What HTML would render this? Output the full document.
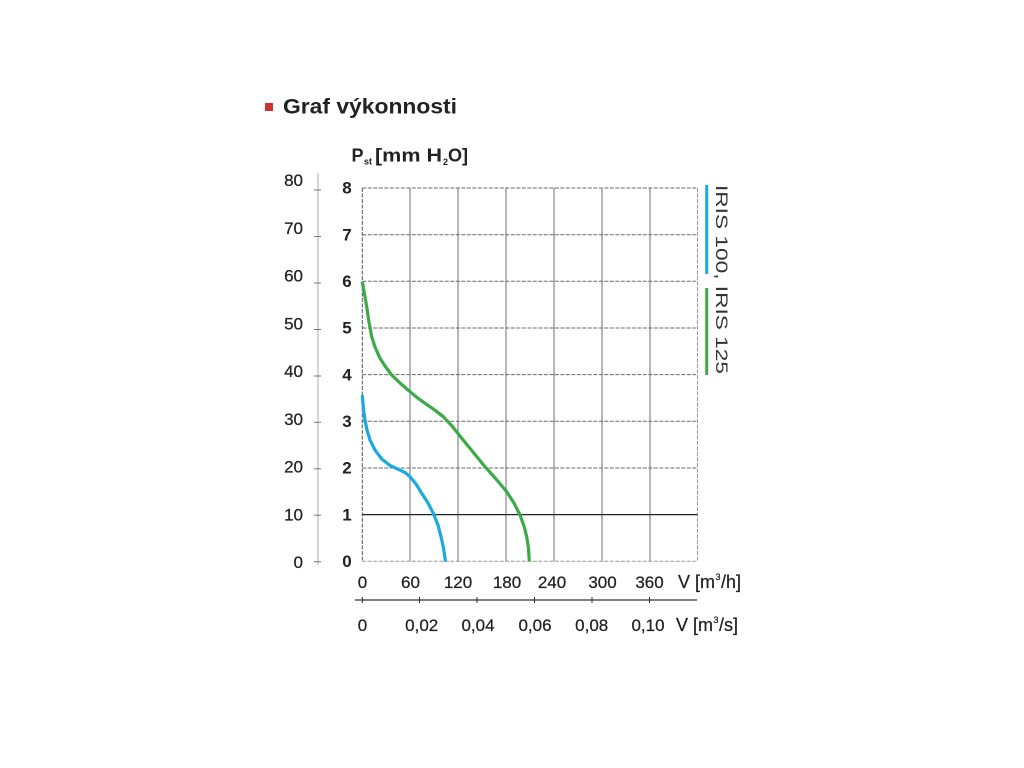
<!DOCTYPE html>
<html>
<head>
<meta charset="utf-8">
<style>
  html, body { margin: 0; padding: 0; background: #ffffff; }
  svg { display: block; }
  text { font-family: "Liberation Sans", "DejaVu Sans", sans-serif; }
</style>
</head>
<body>
<svg width="1024" height="768" viewBox="0 0 1024 768" xmlns="http://www.w3.org/2000/svg">
  <rect x="0" y="0" width="1024" height="768" fill="#ffffff"/>

  <!-- Title -->
  <rect x="265" y="103" width="8" height="8" fill="#d0312d"/>
  <text x="283" y="113.5" font-size="21" font-weight="bold" fill="#222" textLength="174" lengthAdjust="spacingAndGlyphs">Graf výkonnosti</text>

  <!-- Y axis title -->
  <text x="351.5" y="161.7" font-size="18" font-weight="bold" fill="#222">P</text>
  <text x="364" y="164.5" font-size="9" font-weight="bold" fill="#222">st</text>
  <text x="375" y="161.7" font-size="18" font-weight="bold" fill="#222" textLength="67" lengthAdjust="spacingAndGlyphs">[mm H</text>
  <text x="443" y="165" font-size="9" font-weight="bold" fill="#222">2</text>
  <text x="448" y="161.7" font-size="18" font-weight="bold" fill="#222">O]</text>

  <!-- Outer left axis (mm H2O x10) -->
  <line x1="318" y1="173" x2="318" y2="565" stroke="#c8c8c8" stroke-width="1.5"/>
  <g stroke="#777" stroke-width="1">
    <line x1="314" y1="190" x2="321" y2="190"/>
    <line x1="314" y1="236.5" x2="321" y2="236.5"/>
    <line x1="314" y1="283" x2="321" y2="283"/>
    <line x1="314" y1="329.5" x2="321" y2="329.5"/>
    <line x1="314" y1="376" x2="321" y2="376"/>
    <line x1="314" y1="422.3" x2="321" y2="422.3"/>
    <line x1="314" y1="468.8" x2="321" y2="468.8"/>
    <line x1="314" y1="515.2" x2="321" y2="515.2"/>
    <line x1="314" y1="561.7" x2="321" y2="561.7"/>
  </g>
  <g font-size="17" fill="#222" text-anchor="end" stroke="#222" stroke-width="0.25">
    <text x="303" y="186">80</text>
    <text x="303" y="233.8">70</text>
    <text x="303" y="281.5">60</text>
    <text x="303" y="329.3">50</text>
    <text x="303" y="377">40</text>
    <text x="303" y="424.8">30</text>
    <text x="303" y="472.5">20</text>
    <text x="303" y="520.3">10</text>
    <text x="303" y="568">0</text>
  </g>

  <!-- Inner left labels -->
  <g font-size="17" font-weight="bold" fill="#222" text-anchor="middle">
    <text x="347" y="193.7">8</text>
    <text x="347" y="240.3">7</text>
    <text x="347" y="287">6</text>
    <text x="347" y="333.7">5</text>
    <text x="347" y="380.3">4</text>
    <text x="347" y="427">3</text>
    <text x="347" y="473.7">2</text>
    <text x="347" y="520.3">1</text>
    <text x="347" y="567">0</text>
  </g>

  <!-- Grid: vertical lines -->
  <g stroke="#7a7a7a" stroke-width="1.1">
    <line x1="410" y1="188" x2="410" y2="561.3"/>
    <line x1="458" y1="188" x2="458" y2="561.3"/>
    <line x1="506" y1="188" x2="506" y2="561.3" stroke="#a0a0a0" stroke-width="1.5"/>
    <line x1="554" y1="188" x2="554" y2="561.3"/>
    <line x1="602" y1="188" x2="602" y2="561.3"/>
    <line x1="650" y1="188" x2="650" y2="561.3"/>
  </g>
  <line x1="362.3" y1="188" x2="362.3" y2="561.3" stroke="#555" stroke-width="1" stroke-dasharray="4 1.5"/>
  <line x1="697.5" y1="188" x2="697.5" y2="561.3" stroke="#999" stroke-width="1" stroke-dasharray="4 1.5"/>

  <!-- Grid: horizontal lines -->
  <g stroke="#6a6a6a" stroke-width="1" stroke-dasharray="4 1.5">
    <line x1="362.3" y1="188" x2="697.5" y2="188"/>
    <line x1="362.3" y1="234.7" x2="697.5" y2="234.7"/>
    <line x1="362.3" y1="281.3" x2="697.5" y2="281.3"/>
    <line x1="362.3" y1="328" x2="697.5" y2="328"/>
    <line x1="362.3" y1="374.6" x2="697.5" y2="374.6"/>
    <line x1="362.3" y1="421.3" x2="697.5" y2="421.3"/>
    <line x1="362.3" y1="468" x2="697.5" y2="468"/>
    <line x1="362.3" y1="561.3" x2="697.5" y2="561.3" stroke="#999"/>
  </g>
  <line x1="362.3" y1="514.6" x2="697.5" y2="514.6" stroke="#222" stroke-width="1.2"/>

  <!-- Curves -->
  <polyline fill="none" stroke="#3daa48" stroke-width="3.2" stroke-linejoin="round" stroke-linecap="butt"
    points="362.3,281.7 364.5,294 366.7,306.7 369,322 371.7,336.7 375,347 380,358.3 385,366 391.7,375 400,383 410,391.7 417,397.5 425,403.3 434,409.5 443.3,416.7 452,426 461.7,438.3 473,452 485,466.7 496,479 506.7,491.7 514,503 520,515 524,526 526.7,536.7 528.5,548 529.3,561.5"/>
  <polyline fill="none" stroke="#1ba9e1" stroke-width="3.2" stroke-linejoin="round" stroke-linecap="butt"
    points="362.3,395 363.5,410 365,420 367,430 370,440 375,450 381.7,459 390,465.5 398.3,469.3 405,472.5 410,476.7 416,484 421.7,493.3 428,503 433.3,513.3 438,525 441,536.7 443.5,548 445.5,561.5"/>

  <!-- Bottom m3/h labels -->
  <g font-size="17" fill="#222" text-anchor="middle" stroke="#222" stroke-width="0.25">
    <text x="362.5" y="588">0</text>
    <text x="410.5" y="588">60</text>
    <text x="458" y="588">120</text>
    <text x="507" y="588">180</text>
    <text x="552" y="588">240</text>
    <text x="602.5" y="588">300</text>
    <text x="649.5" y="588">360</text>
  </g>
  <g fill="#222" stroke="#222" stroke-width="0.25">
    <text x="678" y="588" font-size="18">V [m</text>
    <text x="715.5" y="580" font-size="9">3</text>
    <text x="721" y="588" font-size="18">/h]</text>
  </g>

  <!-- Second axis (m3/s) -->
  <line x1="355" y1="600" x2="697" y2="600" stroke="#333" stroke-width="1.2"/>
  <g stroke="#333" stroke-width="1">
    <line x1="362.3" y1="597" x2="362.3" y2="603"/>
    <line x1="419.5" y1="597" x2="419.5" y2="603"/>
    <line x1="477" y1="597" x2="477" y2="603"/>
    <line x1="534.5" y1="597" x2="534.5" y2="603"/>
    <line x1="592" y1="597" x2="592" y2="603"/>
    <line x1="649.5" y1="597" x2="649.5" y2="603"/>
  </g>
  <g font-size="17" fill="#222" text-anchor="middle" stroke="#222" stroke-width="0.25">
    <text x="362.5" y="631">0</text>
    <text x="421.7" y="631">0,02</text>
    <text x="478" y="631">0,04</text>
    <text x="535" y="631">0,06</text>
    <text x="591.7" y="631">0,08</text>
    <text x="648" y="631">0,10</text>
  </g>
  <g fill="#222" stroke="#222" stroke-width="0.25">
    <text x="676" y="631" font-size="18">V [m</text>
    <text x="713.5" y="623" font-size="9">3</text>
    <text x="719" y="631" font-size="18">/s]</text>
  </g>

  <!-- Legend -->
  <line x1="706.7" y1="185" x2="706.7" y2="274" stroke="#1ba9e1" stroke-width="3"/>
  <line x1="706.7" y1="288" x2="706.7" y2="375" stroke="#3daa48" stroke-width="3"/>
  <text transform="translate(716,185) rotate(90)" x="0" y="0" font-size="17" fill="#333" textLength="189" lengthAdjust="spacingAndGlyphs">IRIS 100, IRIS 125</text>
</svg>
</body>
</html>
